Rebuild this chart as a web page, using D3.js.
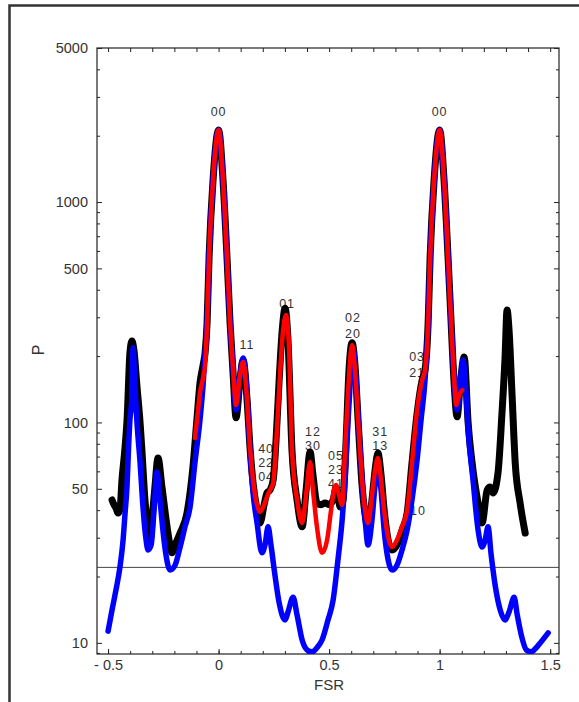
<!DOCTYPE html>
<html>
<head>
<meta charset="UTF-8">
<title>P vs FSR</title>
<script src="https://d3js.org/d3.v7.min.js"></script>
<style>
  body { margin: 0; background: white; }
  svg { display: block; }
  text { font-family: "Liberation Sans", Arial, sans-serif; fill: #333; }
</style>
</head>
<body>
<svg id="chart"></svg>
<script>
// measured spectrum (black)
const blackFsr = [-0.482,-0.473,-0.464,-0.455,-0.446,-0.437,-0.423,-0.414,-0.401,-0.392,-0.383,-0.369,-0.355,-0.346,-0.333,-0.324,-0.310,-0.297,-0.288,-0.274,-0.256,-0.233,-0.220,-0.211,-0.193,-0.174,-0.143,-0.116,-0.098,-0.084,-0.070,-0.061,-0.052,-0.043,-0.025,0,0.020,0.038,0.052,0.066,0.079,0.097,0.111,0.129,0.142,0.156,0.174,0.187,0.206,0.219,0.233,0.247,0.260,0.274,0.288,0.301,0.314,0.332,0.355,0.378,0.396,0.414,0.427,0.445,0.464,0.482,0.500,0.518,0.531,0.540,0.550,0.563,0.577,0.590,0.604,0.617,0.631,0.649,0.663,0.676,0.694,0.708,0.721,0.735,0.749,0.767,0.785,0.807,0.830,0.853,0.875,0.898,0.921,0.934,0.948,0.957,0.975,1.0,1.020,1.038,1.052,1.066,1.079,1.093,1.111,1.129,1.151,1.174,1.192,1.215,1.228,1.242,1.264,1.282,1.296,1.305,1.314,1.328,1.342,1.364,1.387];
const blackP = [44.5,42.3,40.9,38.8,40.1,54.8,77.4,103,207,234,213,145,99.5,72.6,44.5,36.1,29.3,40.1,50.9,69,50.9,33.6,27.8,25.6,28.4,31.5,38.8,62.8,103,151,182,207,283,563,1259,2123,1259,563,283,164,105,156,192,126,77.4,53.1,40.1,35,42.3,47.9,49.4,54.8,83.2,156,263,330,237,75,44.5,33.6,49.4,73.5,57.8,43.1,42.3,43.1,42.3,44.5,50.4,46.9,41.3,44.5,83.2,173,230,182,103,52,38,33.2,44.5,60.8,72.6,57.8,40.1,29.3,26.4,27.8,32.5,38.8,65.5,110,156,173,283,563,1259,2123,1259,563,283,148,106,148,198,99.5,60.8,43.1,35,49.4,50.9,47.9,59,110,198,324,263,131,65.5,43.1,31.5];

// model (blue)
const blueFsr = [-0.500,-0.482,-0.464,-0.446,-0.432,-0.423,-0.414,-0.410,-0.401,-0.393,-0.387,-0.378,-0.369,-0.355,-0.342,-0.328,-0.319,-0.305,-0.292,-0.279,-0.265,-0.252,-0.238,-0.220,-0.197,-0.174,-0.152,-0.129,-0.107,-0.084,-0.070,-0.061,-0.052,-0.043,-0.025,0,0.020,0.038,0.052,0.066,0.079,0.097,0.111,0.129,0.142,0.156,0.174,0.196,0.210,0.224,0.237,0.255,0.274,0.301,0.314,0.337,0.355,0.378,0.400,0.423,0.445,0.468,0.495,0.518,0.540,0.559,0.572,0.586,0.595,0.608,0.622,0.635,0.649,0.663,0.676,0.694,0.708,0.721,0.735,0.749,0.767,0.785,0.807,0.830,0.853,0.875,0.898,0.916,0.934,0.948,0.957,0.975,1.0,1.020,1.038,1.052,1.066,1.079,1.093,1.106,1.120,1.129,1.151,1.174,1.192,1.206,1.219,1.233,1.251,1.274,1.296,1.314,1.337,1.351,1.369,1.392,1.414,1.437,1.459,1.491];
const blueP = [11.3,14.1,17.4,22.1,29.3,38.8,52,65.5,103,126,218,145,99.5,65.5,41.3,29.3,26.4,27.8,40.1,59.6,44.5,32.5,25.1,21.4,22.5,27.2,33.6,41.3,65.5,103,148,207,283,563,1259,2123,1259,563,283,173,114,164,196,133,75,47.9,35,25.6,27.8,33.6,27.8,20.3,15.2,12.7,13.8,16.1,13.4,10.3,9.3,9.1,9.5,10.3,12.7,15.6,23.8,36.1,54.8,103,148,218,156,92.5,54.8,36.1,27.8,36.1,52,60.8,49.4,32.5,23.8,21.4,22.5,26.4,32.5,44.5,67.6,103,156,283,563,1259,2123,1259,563,283,156,114,148,192,133,92.5,54.8,32.5,27.2,29.3,33.6,25.1,18.3,14.1,12.7,13.8,16.1,13.4,10.9,9.3,9.1,9.5,10.1,11.1];

// fit (red)
const redFsr = [-0.107,-0.093,-0.084,-0.070,-0.061,-0.052,-0.043,-0.025,0,0.020,0.038,0.052,0.066,0.079,0.097,0.111,0.129,0.142,0.156,0.174,0.187,0.206,0.219,0.233,0.247,0.260,0.274,0.288,0.305,0.319,0.332,0.355,0.378,0.396,0.414,0.427,0.445,0.468,0.491,0.509,0.522,0.531,0.545,0.559,0.572,0.586,0.604,0.617,0.631,0.649,0.663,0.676,0.694,0.708,0.721,0.735,0.749,0.767,0.785,0.807,0.830,0.853,0.875,0.898,0.921,0.934,0.948,0.957,0.975,1.0,1.020,1.038,1.052,1.066,1.075,1.088,1.102];
const redP = [85,114,137,159,182,283,563,1259,2123,1259,563,283,173,120,164,188,126,77.4,54.8,42.3,39.3,42.3,45.9,49.4,53.1,79,140,237,307,213,75,44.5,35,46.9,66.2,49.4,33.6,25.6,29.3,40.1,49.4,52,46.9,42.3,75,140,224,173,103,54.8,40.1,35,46.9,60.8,69,54.8,40.1,30.2,27.2,29.3,33.6,40.1,65.5,114,156,173,283,563,1259,2123,1259,563,283,156,120,133,140];

// mode labels
const labelText = ["00","11","01","40","22","04","12","30","05","23","41","02","20","31","13","03","21","10","00"];
const labelFsr  = [0,0.129,0.310,0.215,0.215,0.215,0.427,0.427,0.531,0.531,0.531,0.608,0.608,0.731,0.731,0.898,0.898,0.902,1.0];
const labelP    = [2458,215,330,72.6,62.8,54.2,86.9,75,67.6,58.3,50.4,286,242,86.9,75,190,161,38,2458];

const xMajor = [-0.5, 0, 0.5, 1, 1.5];
const yMajor = [10, 50, 100, 500, 1000, 5000];
const refLevel = 22;

const width = 579, height = 702;
const margin = { top: 48, right: 20, bottom: 48, left: 97 };

const svg = d3.select("#chart").attr("width", width).attr("height", height);

svg.append("rect").attr("width", width).attr("height", height).attr("fill", "white");
// outer frame
svg.append("rect")
  .attr("x", 9.5).attr("y", 5.5).attr("width", 620).attr("height", 760)
  .attr("fill", "none").attr("stroke", "#333").attr("stroke-width", 2.5);

const x = d3.scaleLinear().domain([-0.55, 1.54]).range([margin.left, width - margin.right]);
const y = d3.scaleLog().domain([8.9, 5000]).range([height - margin.bottom, margin.top]);

svg.append("clipPath").attr("id", "plot")
  .append("rect")
  .attr("x", x.range()[0]).attr("y", y.range()[1])
  .attr("width", x.range()[1] - x.range()[0]).attr("height", y.range()[0] - y.range()[1]);

// axes (ticks point inwards)
const xMinor = d3.range(-5, 16).map(i => i / 10);
const yMinor = [9,20,30,40,60,70,80,90,200,300,400,600,700,800,900,2000,3000,4000];

function styleAxis(g) {
  g.select(".domain").remove();
  g.selectAll(".tick line").attr("stroke", "#222");
  g.selectAll(".tick text").style("font-size", "14.5px").attr("fill", "#333");
}

const x0 = y.range()[0], x1 = y.range()[1];
svg.append("g").attr("transform", `translate(0,${x0})`)
  .call(d3.axisBottom(x).tickValues(xMinor).tickSize(-3).tickFormat(""))
  .call(styleAxis);
svg.append("g").attr("transform", `translate(0,${x0})`)
  .call(d3.axisBottom(x).tickValues(xMajor).tickSize(-5).tickPadding(6)
    .tickFormat(d => d < 0 ? "- " + Math.abs(d) : String(d)))
  .call(styleAxis);
svg.append("g").attr("transform", `translate(0,${x1})`)
  .call(d3.axisTop(x).tickValues(xMinor).tickSize(-4).tickFormat(""))
  .call(styleAxis);

const yl = x.range()[0], yr = x.range()[1];
svg.append("g").attr("transform", `translate(${yl},0)`)
  .call(d3.axisLeft(y).tickValues(yMinor).tickSize(-3).tickFormat(""))
  .call(styleAxis);
svg.append("g").attr("transform", `translate(${yl},0)`)
  .call(d3.axisLeft(y).tickValues(yMajor).tickSize(-5).tickPadding(9).tickFormat(d3.format("d")))
  .call(styleAxis);
svg.append("g").attr("transform", `translate(${yr},0)`)
  .call(d3.axisRight(y).tickValues(yMinor).tickSize(-3).tickFormat(""))
  .call(styleAxis);
svg.append("g").attr("transform", `translate(${yr},0)`)
  .call(d3.axisRight(y).tickValues(yMajor).tickSize(-5).tickFormat(""))
  .call(styleAxis);

// frame of plot area
svg.append("rect")
  .attr("x", yl).attr("y", x1).attr("width", yr - yl).attr("height", x0 - x1)
  .attr("fill", "none").attr("stroke", "#222").attr("stroke-width", 1.2);

// axis titles
svg.append("text").attr("x", 329).attr("y", 690).attr("text-anchor", "middle")
  .style("font-size", "15px").text("FSR");
svg.append("text").attr("transform", "translate(44,350) rotate(-90)").attr("text-anchor", "middle")
  .style("font-size", "16px").text("P");

// reference level
svg.append("line")
  .attr("x1", yl).attr("x2", yr).attr("y1", y(refLevel)).attr("y2", y(refLevel))
  .attr("stroke", "#444").attr("stroke-width", 1);

// mode labels (drawn below the curves)
svg.append("g").selectAll("text").data(labelText).join("text")
  .attr("x", (d, i) => x(labelFsr[i]))
  .attr("y", (d, i) => y(labelP[i]))
  .attr("text-anchor", "middle")
  .style("font-size", "12.5px")
  .style("letter-spacing", "1px")
  .text(d => d);

const plot = svg.append("g").attr("clip-path", "url(#plot)");
const line = d3.line().x(d => x(d[0])).y(d => y(d[1])).curve(d3.curveMonotoneX);

plot.append("path").datum(d3.zip(blackFsr, blackP)).attr("d", line)
  .attr("fill", "none").attr("stroke", "#000").attr("stroke-width", 7)
  .attr("stroke-linejoin", "round").attr("stroke-linecap", "round");
plot.append("path").datum(d3.zip(blueFsr, blueP)).attr("d", line)
  .attr("fill", "none").attr("stroke", "#0000ff").attr("stroke-width", 5.5)
  .attr("stroke-linejoin", "round").attr("stroke-linecap", "round");
plot.append("path").datum(d3.zip(redFsr, redP)).attr("d", line)
  .attr("fill", "none").attr("stroke", "#ff0000").attr("stroke-width", 4.5)
  .attr("stroke-linejoin", "round").attr("stroke-linecap", "round");
</script>
</body>
</html>
